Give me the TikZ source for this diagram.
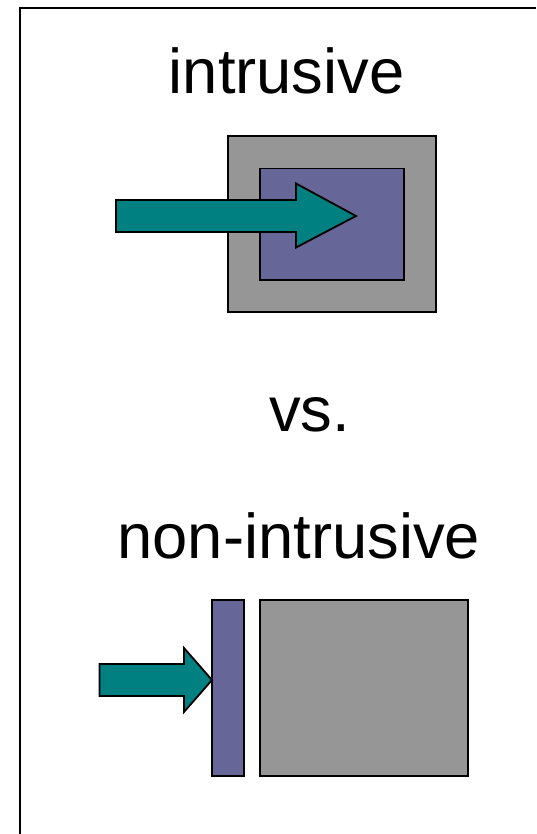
\documentclass[tikz,border=0pt]{standalone}
\usepackage{fontspec}
\setmainfont{Liberation Sans}
\definecolor{boxgray}{HTML}{969696}
\definecolor{corepurple}{HTML}{666699}
\definecolor{arrowteal}{HTML}{008080}
\begin{document}
\begin{tikzpicture}[x=1pt,y=-1pt,
  outline/.style={draw=black,line width=1.8pt,line join=miter},
  label/.style={anchor=base,inner sep=0pt,font=\fontsize{63.3}{63.3}\selectfont}]
\useasboundingbox (0,0) rectangle (536,834);
% frame (top and left edges)
\draw[line width=2.2pt] (20,834) -- (20,8) -- (536,8);

% intrusive: component inside a container, arrow reaching into it
\node[label] (t1) at (286.7,93.3) {intrusive};
\filldraw[outline,fill=boxgray] (228,136) rectangle (436,312);
\filldraw[outline,fill=corepurple] (260,168.5) rectangle (404,280);
\filldraw[outline,fill=arrowteal]
  (116,200) -- (296,200) -- (296,183.5) -- (356,216) -- (296,247.5)
  -- (296,232) -- (116,232) -- cycle;

\node[label] (t2) at (309.5,431.7) {vs.};

% non-intrusive: arrow stops at a separate layer beside the container
\node[label] (t3) at (298.8,558.3) {non-intrusive};
\filldraw[outline,fill=corepurple] (212,600) rectangle (244,776);
\filldraw[outline,fill=boxgray] (260,600) rectangle (468.3,776);
\filldraw[outline,fill=arrowteal]
  (99.5,664) -- (184,664) -- (184,648) -- (212,680) -- (184,712)
  -- (184,696) -- (99.5,696) -- cycle;
\end{tikzpicture}
\end{document}
